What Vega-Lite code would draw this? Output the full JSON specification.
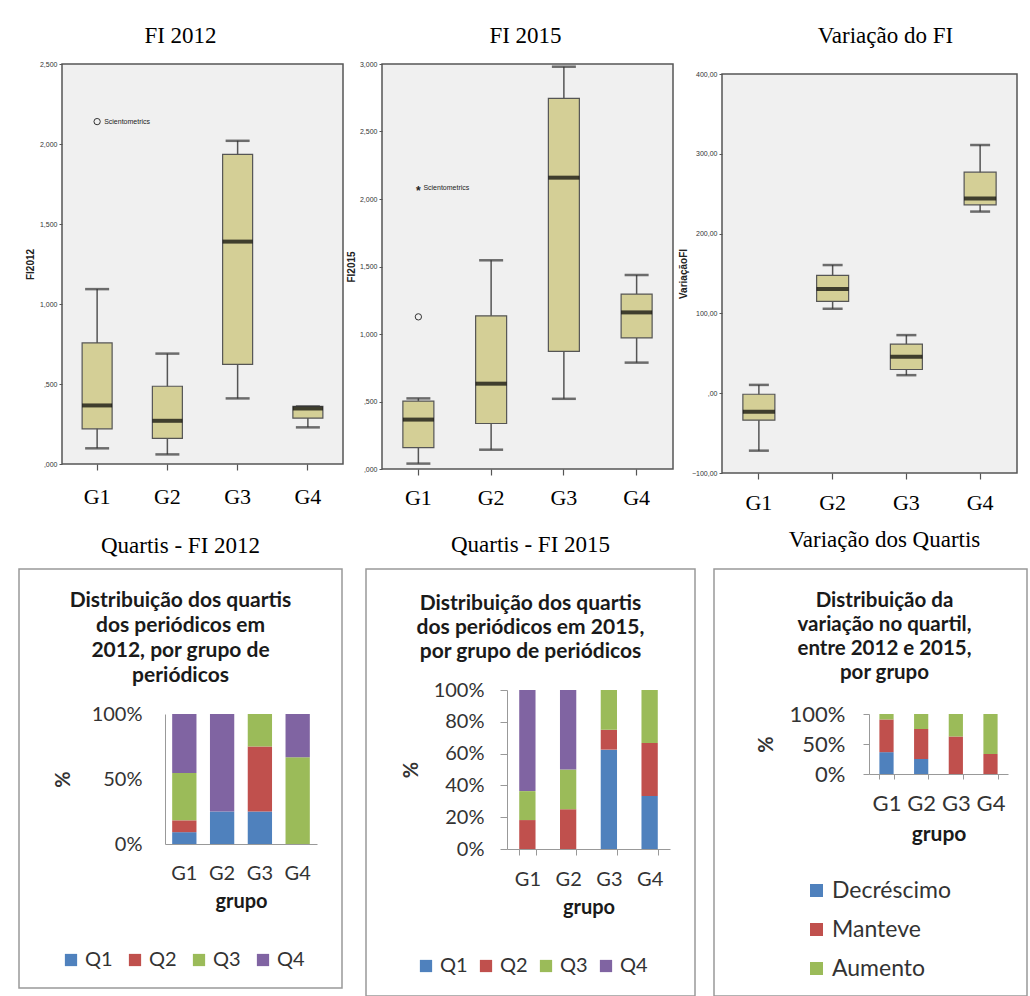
{
  "$schema": "https://vega.github.io/schema/vega-lite/v6.json",
  "background": "white",
  "padding": 0,
  "autosize": {"type": "pad"},
  "config": {"view": {"stroke": null}, "font": "Liberation Sans"},
  "datasets": {
    "fi2012": [
      {"grupo": "G1", "min": 0.098, "q1": 0.22, "med": 0.366, "q3": 0.757, "max": 1.093},
      {"grupo": "G2", "min": 0.06, "q1": 0.16, "med": 0.27, "q3": 0.486, "max": 0.69},
      {"grupo": "G3", "min": 0.41, "q1": 0.623, "med": 1.39, "q3": 1.935, "max": 2.02},
      {"grupo": "G4", "min": 0.229, "q1": 0.287, "med": 0.347, "q3": 0.36, "max": 0.36}
    ],
    "fi2015": [
      {"grupo": "G1", "min": 0.04, "q1": 0.158, "med": 0.366, "q3": 0.503, "max": 0.523},
      {"grupo": "G2", "min": 0.143, "q1": 0.337, "med": 0.632, "q3": 1.135, "max": 1.546},
      {"grupo": "G3", "min": 0.52, "q1": 0.872, "med": 2.158, "q3": 2.746, "max": 2.98},
      {"grupo": "G4", "min": 0.788, "q1": 0.971, "med": 1.16, "q3": 1.296, "max": 1.437}
    ],
    "variacaoFI": [
      {"grupo": "G1", "min": -72, "q1": -33.8, "med": -23.4, "q3": -1.3, "max": 10.4},
      {"grupo": "G2", "min": 105.8, "q1": 115, "med": 130.5, "q3": 147.6, "max": 160.6},
      {"grupo": "G3", "min": 22.6, "q1": 29.7, "med": 45.6, "q3": 61.5, "max": 72.8},
      {"grupo": "G4", "min": 227.6, "q1": 236, "med": 244, "q3": 277, "max": 311}
    ],
    "out2012": [
      {"grupo": "G1", "valor": 2.14, "tipo": "outlier", "rotulo": "Scientometrics"}
    ],
    "out2015": [
      {"grupo": "G1", "valor": 1.127, "tipo": "outlier", "rotulo": ""},
      {"grupo": "G1", "valor": 2.08, "tipo": "extremo", "rotulo": "Scientometrics"}
    ],
    "quartis2012": [
      {"grupo": "G1", "quartil": "Q1", "pct": 9.1},
      {"grupo": "G1", "quartil": "Q2", "pct": 9.1},
      {"grupo": "G1", "quartil": "Q3", "pct": 36.4},
      {"grupo": "G1", "quartil": "Q4", "pct": 45.4},
      {"grupo": "G2", "quartil": "Q1", "pct": 25},
      {"grupo": "G2", "quartil": "Q4", "pct": 75},
      {"grupo": "G3", "quartil": "Q1", "pct": 25},
      {"grupo": "G3", "quartil": "Q2", "pct": 50},
      {"grupo": "G3", "quartil": "Q3", "pct": 25},
      {"grupo": "G4", "quartil": "Q3", "pct": 66.7},
      {"grupo": "G4", "quartil": "Q4", "pct": 33.3}
    ],
    "quartis2015": [
      {"grupo": "G1", "quartil": "Q2", "pct": 18.2},
      {"grupo": "G1", "quartil": "Q3", "pct": 18.2},
      {"grupo": "G1", "quartil": "Q4", "pct": 63.6},
      {"grupo": "G2", "quartil": "Q2", "pct": 25},
      {"grupo": "G2", "quartil": "Q3", "pct": 25},
      {"grupo": "G2", "quartil": "Q4", "pct": 50},
      {"grupo": "G3", "quartil": "Q1", "pct": 62.5},
      {"grupo": "G3", "quartil": "Q2", "pct": 12.5},
      {"grupo": "G3", "quartil": "Q3", "pct": 25},
      {"grupo": "G4", "quartil": "Q1", "pct": 33.3},
      {"grupo": "G4", "quartil": "Q2", "pct": 33.3},
      {"grupo": "G4", "quartil": "Q3", "pct": 33.4}
    ],
    "variacaoQuartil": [
      {"grupo": "G1", "variacao": "Decréscimo", "sentido": -1, "pct": 36.4},
      {"grupo": "G1", "variacao": "Manteve", "sentido": 0, "pct": 54.5},
      {"grupo": "G1", "variacao": "Aumento", "sentido": 1, "pct": 9.1},
      {"grupo": "G2", "variacao": "Decréscimo", "sentido": -1, "pct": 25},
      {"grupo": "G2", "variacao": "Manteve", "sentido": 0, "pct": 50},
      {"grupo": "G2", "variacao": "Aumento", "sentido": 1, "pct": 25},
      {"grupo": "G3", "variacao": "Manteve", "sentido": 0, "pct": 62.5},
      {"grupo": "G3", "variacao": "Aumento", "sentido": 1, "pct": 37.5},
      {"grupo": "G4", "variacao": "Manteve", "sentido": 0, "pct": 33.3},
      {"grupo": "G4", "variacao": "Aumento", "sentido": 1, "pct": 66.7}
    ]
  },
  "resolve": {"scale": {"color": "independent"}, "legend": {"color": "independent"}},
  "vconcat": [
    {"width": 1030, "height": 64, "data": {"values": []}, "mark": "rule", "encoding": {}, "view": {"stroke": null, "fill": "white"}},
    {
      "resolve": {"scale": {"color": "independent"}, "legend": {"color": "independent"}},
      "vconcat": [
        {
          "hconcat": [
            {"width": 62, "height": 1, "data": {"values": []}, "mark": "rule", "encoding": {}, "view": {"stroke": null}},
            {
              "width": 281, "height": 400,
              "data": {"name": "fi2012"},
              "view": {"fill": "#f0f0f0", "stroke": "#555", "strokeWidth": 1.5},
              "title": {"text": "FI 2012", "font": "Liberation Serif", "fontSize": 23, "fontWeight": "normal", "color": "black", "anchor": "middle", "frame": "group", "dx": -22, "offset": 12},
              "encoding": {
                "x": {"field": "grupo", "type": "nominal", "title": null,
                  "scale": {"domain": ["G1", "G2", "G3", "G4"], "paddingInner": 0, "paddingOuter": 0},
                  "axis": {"domain": false, "labelAngle": 0, "labelFont": "Liberation Serif", "labelFontSize": 22, "labelColor": "black", "labelPadding": 16, "tickSize": 6, "tickColor": "#555", "tickWidth": 1.2}}
              },
              "layer": [
                {"mark": {"type": "rule", "color": "#555", "strokeWidth": 1.5},
                  "encoding": {"y": {"field": "min", "type": "quantitative", "title": "FI2012",
                    "scale": {"domain": [0, 2.5], "nice": false, "zero": false},
                    "axis": {"values": [0, 0.5, 1, 1.5, 2, 2.5], "labelExpr": "datum.value < 1 ? replace(format(datum.value, '.3f'), '0.', ',') : replace(format(datum.value, '.3f'), '.', ',')", "grid": false, "domain": false, "labelFont": "Liberation Sans", "labelFontSize": 7, "labelColor": "#333", "labelPadding": 2, "tickSize": 3, "tickColor": "#555", "titleFont": "Liberation Sans", "titleFontSize": 10, "titleFontWeight": "bold", "titleColor": "#222", "titlePadding": 4}},
                    "y2": {"field": "max"}}},
                {"mark": {"type": "tick", "color": "#333", "thickness": 2.5, "size": 24}, "encoding": {"y": {"field": "min", "type": "quantitative", "title": "FI2012"}}},
                {"mark": {"type": "tick", "color": "#333", "thickness": 2.5, "size": 24}, "encoding": {"y": {"field": "max", "type": "quantitative", "title": "FI2012"}}},
                {"mark": {"type": "bar", "fill": "#d4cf96", "stroke": "#555", "strokeWidth": 1.2, "width": 30}, "encoding": {"y": {"field": "q1", "type": "quantitative", "title": "FI2012"}, "y2": {"field": "q3"}}},
                {"mark": {"type": "tick", "color": "black", "thickness": 4, "size": 30}, "encoding": {"y": {"field": "med", "type": "quantitative", "title": "FI2012"}}},
                {"data": {"name": "out2012"}, "mark": {"type": "point", "shape": "circle", "filled": false, "stroke": "#333", "strokeWidth": 1, "size": 40, "opacity": 1}, "encoding": {"y": {"field": "valor", "type": "quantitative", "title": "FI2012"}}},
                {"data": {"name": "out2012"}, "mark": {"type": "text", "align": "left", "baseline": "middle", "dx": 7, "fontSize": 7, "font": "Liberation Sans", "color": "#222"}, "encoding": {"y": {"field": "valor", "type": "quantitative", "title": "FI2012"}, "text": {"field": "rotulo"}}}
              ]
            },
            {"width": 39, "height": 1, "data": {"values": []}, "mark": "rule", "encoding": {}, "view": {"stroke": null}},
            {
              "width": 291, "height": 405,
              "data": {"name": "fi2015"},
              "view": {"fill": "#f0f0f0", "stroke": "#555", "strokeWidth": 1.5},
              "title": {"text": "FI 2015", "font": "Liberation Serif", "fontSize": 23, "fontWeight": "normal", "color": "black", "anchor": "middle", "frame": "group", "dx": -2, "offset": 12},
              "encoding": {
                "x": {"field": "grupo", "type": "nominal", "title": null,
                  "scale": {"domain": ["G1", "G2", "G3", "G4"], "paddingInner": 0, "paddingOuter": 0},
                  "axis": {"domain": false, "labelAngle": 0, "labelFont": "Liberation Serif", "labelFontSize": 22, "labelColor": "black", "labelPadding": 12, "tickSize": 6, "tickColor": "#555", "tickWidth": 1.2}}
              },
              "layer": [
                {"mark": {"type": "rule", "color": "#555", "strokeWidth": 1.5},
                  "encoding": {"y": {"field": "min", "type": "quantitative", "title": "FI2015",
                    "scale": {"domain": [0, 3], "nice": false, "zero": false},
                    "axis": {"values": [0, 0.5, 1, 1.5, 2, 2.5, 3], "labelExpr": "datum.value < 1 ? replace(format(datum.value, '.3f'), '0.', ',') : replace(format(datum.value, '.3f'), '.', ',')", "grid": false, "domain": false, "labelFont": "Liberation Sans", "labelFontSize": 7, "labelColor": "#333", "labelPadding": 2, "tickSize": 3, "tickColor": "#555", "titleFont": "Liberation Sans", "titleFontSize": 10, "titleFontWeight": "bold", "titleColor": "#222", "titlePadding": 3}},
                    "y2": {"field": "max"}}},
                {"mark": {"type": "tick", "color": "#333", "thickness": 2.5, "size": 24}, "encoding": {"y": {"field": "min", "type": "quantitative", "title": "FI2015"}}},
                {"mark": {"type": "tick", "color": "#333", "thickness": 2.5, "size": 24}, "encoding": {"y": {"field": "max", "type": "quantitative", "title": "FI2015"}}},
                {"mark": {"type": "bar", "fill": "#d4cf96", "stroke": "#555", "strokeWidth": 1.2, "width": 31}, "encoding": {"y": {"field": "q1", "type": "quantitative", "title": "FI2015"}, "y2": {"field": "q3"}}},
                {"mark": {"type": "tick", "color": "black", "thickness": 4, "size": 31}, "encoding": {"y": {"field": "med", "type": "quantitative", "title": "FI2015"}}},
                {"data": {"name": "out2015"}, "transform": [{"filter": "datum.tipo == 'outlier'"}], "mark": {"type": "point", "shape": "circle", "filled": false, "stroke": "#333", "strokeWidth": 1, "size": 40, "opacity": 1}, "encoding": {"y": {"field": "valor", "type": "quantitative", "title": "FI2015"}}},
                {"data": {"name": "out2015"}, "transform": [{"filter": "datum.tipo == 'extremo'"}], "mark": {"type": "text", "align": "center", "baseline": "middle", "dy": 3, "fontSize": 12, "fontWeight": "bold", "font": "Liberation Sans", "color": "#222", "text": "*"}, "encoding": {"y": {"field": "valor", "type": "quantitative", "title": "FI2015"}}},
                {"data": {"name": "out2015"}, "mark": {"type": "text", "align": "left", "baseline": "middle", "dx": 5, "fontSize": 7, "font": "Liberation Sans", "color": "#222"}, "encoding": {"y": {"field": "valor", "type": "quantitative", "title": "FI2015"}, "text": {"field": "rotulo"}}}
              ]
            },
            {"width": 49, "height": 1, "data": {"values": []}, "mark": "rule", "encoding": {}, "view": {"stroke": null}},
            {
              "vconcat": [
                {"width": 295, "height": 10, "data": {"values": []}, "mark": "rule", "encoding": {}, "view": {"stroke": null}},
                {
                  "width": 295, "height": 399,
                  "data": {"name": "variacaoFI"},
                  "view": {"fill": "#f0f0f0", "stroke": "#555", "strokeWidth": 1.5},
                  "title": {"text": "Variação do FI", "font": "Liberation Serif", "fontSize": 23, "fontWeight": "normal", "color": "black", "anchor": "middle", "frame": "group", "dx": 16, "offset": 22},
                  "encoding": {
                    "x": {"field": "grupo", "type": "nominal", "title": null,
                      "scale": {"domain": ["G1", "G2", "G3", "G4"], "paddingInner": 0, "paddingOuter": 0},
                      "axis": {"domain": false, "labelAngle": 0, "labelFont": "Liberation Serif", "labelFontSize": 22, "labelColor": "black", "labelPadding": 13, "tickSize": 6, "tickColor": "#555", "tickWidth": 1.2}}
                  },
                  "layer": [
                    {"mark": {"type": "rule", "color": "#555", "strokeWidth": 1.5},
                      "encoding": {"y": {"field": "min", "type": "quantitative", "title": "VariaçãoFI",
                        "scale": {"domain": [-100, 400], "nice": false, "zero": false},
                        "axis": {"values": [-100, 0, 100, 200, 300, 400], "labelExpr": "datum.value == 0 ? ',00' : replace(format(datum.value, '.2f'), '.', ',')", "grid": false, "domain": false, "labelFont": "Liberation Sans", "labelFontSize": 7, "labelColor": "#333", "labelPadding": 2, "tickSize": 3, "tickColor": "#555", "titleFont": "Liberation Sans", "titleFontSize": 10, "titleFontWeight": "bold", "titleColor": "#222", "titlePadding": 3}},
                        "y2": {"field": "max"}}},
                    {"mark": {"type": "tick", "color": "#333", "thickness": 2.5, "size": 20}, "encoding": {"y": {"field": "min", "type": "quantitative", "title": "VariaçãoFI"}}},
                    {"mark": {"type": "tick", "color": "#333", "thickness": 2.5, "size": 20}, "encoding": {"y": {"field": "max", "type": "quantitative", "title": "VariaçãoFI"}}},
                    {"mark": {"type": "bar", "fill": "#d4cf96", "stroke": "#555", "strokeWidth": 1.2, "width": 32}, "encoding": {"y": {"field": "q1", "type": "quantitative", "title": "VariaçãoFI"}, "y2": {"field": "q3"}}},
                    {"mark": {"type": "tick", "color": "black", "thickness": 4, "size": 32}, "encoding": {"y": {"field": "med", "type": "quantitative", "title": "VariaçãoFI"}}}
                  ]
                }
              ],
              "spacing": 0,
              "bounds": "flush"
            }
          ],
          "spacing": 0,
          "bounds": "flush"
        },
        {
          "resolve": {"scale": {"color": "independent"}, "legend": {"color": "independent"}},
          "hconcat": [
            {"width": 19, "height": 1, "data": {"values": []}, "mark": "rule", "encoding": {}, "view": {"stroke": null}},
            {
              "width": 323, "height": 419,
              "data": {"name": "quartis2012"},
              "view": {"stroke": "#999", "strokeWidth": 1.5, "fill": "white"},
              "title": {
                "text": "Quartis - FI 2012",
                "subtitle": ["Distribuição dos quartis", "dos periódicos em", "2012, por grupo de", "periódicos"],
                "anchor": "middle", "frame": "group",
                "font": "Liberation Serif", "fontSize": 23, "fontWeight": "normal", "color": "black",
                "subtitleFont": "Lato", "subtitleFontSize": 21, "subtitleFontWeight": "bold", "subtitleColor": "#1a1a1a", "subtitleLineHeight": 25, "subtitlePadding": 32,
                "offset": -117
              },
              "mark": {"type": "bar"},
              "encoding": {
                "x": {"field": "grupo", "type": "nominal",
                  "scale": {"domain": ["G1", "G2", "G3", "G4"], "range": [146, 298], "paddingInner": 0.357, "paddingOuter": 0.19},
                  "axis": {"offset": -144, "labelAngle": 0, "ticks": false, "domainColor": "#999", "labelFont": "Lato", "labelFontSize": 20, "labelColor": "#333", "labelPadding": 19, "title": "grupo", "titleFont": "Lato", "titleFontSize": 20, "titleFontWeight": "bold", "titleColor": "#1a1a1a", "titlePadding": 8}},
                "y": {"field": "pct", "type": "quantitative", "stack": "normalize",
                  "scale": {"domain": [0, 1], "range": [275, 145]},
                  "axis": {"offset": -146, "values": [0, 0.5, 1], "format": ".0%", "grid": false, "ticks": false, "domainColor": "#999", "labelFont": "Lato", "labelFontSize": 20, "labelColor": "#333", "labelPadding": 23, "title": "%", "titleFont": "Lato", "titleFontSize": 20, "titleFontWeight": "bold", "titleColor": "#333", "titlePadding": 18}},
                "color": {"field": "quartil", "type": "nominal",
                  "scale": {"domain": ["Q1", "Q2", "Q3", "Q4"], "range": ["#4F81BD", "#C0504D", "#9BBB59", "#8064A2"]},
                  "legend": {"orient": "none", "legendX": 42, "legendY": 381, "direction": "horizontal", "columns": 4, "title": null, "symbolType": "square", "symbolSize": 150, "symbolStrokeWidth": 0, "labelFont": "Lato", "labelFontSize": 20, "labelColor": "#333", "columnPadding": 12, "padding": 0}},
                "order": {"field": "quartil", "sort": "ascending"}
              }
            },
            {"width": 24, "height": 1, "data": {"values": []}, "mark": "rule", "encoding": {}, "view": {"stroke": null}},
            {
              "width": 329, "height": 427,
              "data": {"name": "quartis2015"},
              "view": {"stroke": "#999", "strokeWidth": 1.5, "fill": "white"},
              "title": {
                "text": "Quartis - FI 2015",
                "subtitle": ["Distribuição dos quartis", "dos periódicos em 2015,", "por grupo de periódicos"],
                "anchor": "middle", "frame": "group",
                "font": "Liberation Serif", "fontSize": 23, "fontWeight": "normal", "color": "black",
                "subtitleFont": "Lato", "subtitleFontSize": 21, "subtitleFontWeight": "bold", "subtitleColor": "#1a1a1a", "subtitleLineHeight": 24, "subtitlePadding": 36,
                "offset": -92.6
              },
              "mark": {"type": "bar"},
              "encoding": {
                "x": {"field": "grupo", "type": "nominal",
                  "scale": {"domain": ["G1", "G2", "G3", "G4"], "range": [141, 304], "paddingInner": 0.6, "paddingOuter": 0.3},
                  "axis": {"offset": -147, "labelAngle": 0, "tickBand": "extent", "tickSize": 6, "tickColor": "#999", "domainColor": "#999", "labelFont": "Lato", "labelFontSize": 20, "labelColor": "#333", "labelPadding": 14, "title": "grupo", "titleFont": "Lato", "titleFontSize": 20, "titleFontWeight": "bold", "titleColor": "#1a1a1a", "titlePadding": 8}},
                "y": {"field": "pct", "type": "quantitative", "stack": "normalize",
                  "scale": {"domain": [0, 1], "range": [280, 121]},
                  "axis": {"offset": -141, "values": [0, 0.2, 0.4, 0.6, 0.8, 1], "format": ".0%", "grid": false, "tickSize": 7, "tickColor": "#999", "domainColor": "#999", "labelFont": "Lato", "labelFontSize": 20, "labelColor": "#333", "labelPadding": 16, "title": "%", "titleFont": "Lato", "titleFontSize": 20, "titleFontWeight": "bold", "titleColor": "#333", "titlePadding": 12}},
                "color": {"field": "quartil", "type": "nominal",
                  "scale": {"domain": ["Q1", "Q2", "Q3", "Q4"], "range": ["#4F81BD", "#C0504D", "#9BBB59", "#8064A2"]},
                  "legend": {"orient": "none", "legendX": 50, "legendY": 387, "direction": "horizontal", "columns": 4, "title": null, "symbolType": "square", "symbolSize": 150, "symbolStrokeWidth": 0, "labelFont": "Lato", "labelFontSize": 20, "labelColor": "#333", "columnPadding": 8, "padding": 0}},
                "order": {"field": "quartil", "sort": "ascending"}
              }
            },
            {"width": 19, "height": 1, "data": {"values": []}, "mark": "rule", "encoding": {}, "view": {"stroke": null}},
            {
              "width": 313, "height": 427,
              "data": {"name": "variacaoQuartil"},
              "view": {"stroke": "#999", "strokeWidth": 1.5, "fill": "white"},
              "title": {
                "text": "Variação dos Quartis",
                "subtitle": ["Distribuição da", "variação no quartil,", "entre 2012 e 2015,", "por grupo"],
                "anchor": "middle", "frame": "group", "dx": 14,
                "font": "Liberation Serif", "fontSize": 23, "fontWeight": "normal", "color": "black",
                "subtitleFont": "Lato", "subtitleFontSize": 20.5, "subtitleFontWeight": "bold", "subtitleColor": "#1a1a1a", "subtitleLineHeight": 24, "subtitlePadding": 39.5,
                "offset": -114.5
              },
              "mark": {"type": "bar"},
              "encoding": {
                "x": {"field": "grupo", "type": "nominal",
                  "scale": {"domain": ["G1", "G2", "G3", "G4"], "range": [155, 294], "paddingInner": 0.59, "paddingOuter": 0.3},
                  "axis": {"offset": -222, "labelAngle": 0, "tickBand": "extent", "tickSize": 5, "tickColor": "#999", "domainColor": "#999", "labelFont": "Lato", "labelFontSize": 22, "labelColor": "#333", "labelPadding": 14, "title": "grupo", "titleFont": "Lato", "titleFontSize": 21, "titleFontWeight": "bold", "titleColor": "#1a1a1a", "titlePadding": 9}},
                "y": {"field": "pct", "type": "quantitative", "stack": "normalize",
                  "scale": {"domain": [0, 1], "range": [205, 145]},
                  "axis": {"offset": -155, "values": [0, 0.5, 1], "format": ".0%", "grid": false, "tickSize": 6, "tickColor": "#999", "domainColor": "#999", "labelFont": "Lato", "labelFontSize": 22, "labelColor": "#333", "labelPadding": 18, "title": "%", "titleFont": "Lato", "titleFontSize": 20, "titleFontWeight": "bold", "titleColor": "#333", "titlePadding": 13}},
                "color": {"field": "variacao", "type": "nominal",
                  "scale": {"domain": ["Decréscimo", "Manteve", "Aumento"], "range": ["#4F81BD", "#C0504D", "#9BBB59"]},
                  "legend": {"orient": "none", "legendX": 91, "legendY": 310, "direction": "vertical", "columns": 1, "title": null, "symbolType": "square", "symbolSize": 169, "symbolStrokeWidth": 0, "labelFont": "Lato", "labelFontSize": 23, "labelColor": "#333", "rowPadding": 15, "padding": 0}},
                "order": {"field": "sentido", "type": "quantitative", "sort": "ascending"}
              }
            }
          ],
          "spacing": 0,
          "bounds": "flush"
        }
      ],
      "spacing": 505,
      "bounds": "flush"
    }
  ],
  "spacing": 0,
  "bounds": "flush"
}
